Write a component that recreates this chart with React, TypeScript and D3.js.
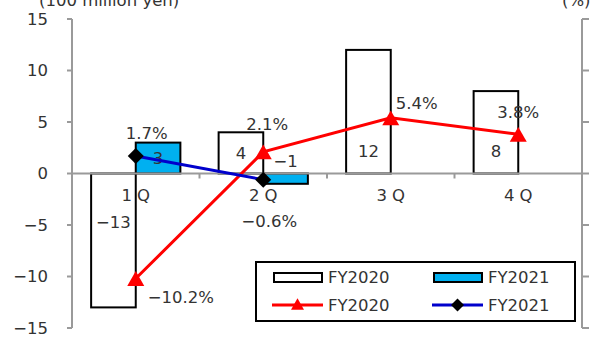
import React from "react";
import * as d3 from "d3";

// Quarterly operating profit (100 million yen) and margin (%)
const quarters = ["1 Q", "2 Q", "3 Q", "4 Q"];
const barSeries = ["FY2020", "FY2021"];
const profit2020 = [-13, 4, 12, 8];
const profit2021 = [3, -1];
const margin2020 = [-10.2, 2.1, 5.4, 3.8];
const margin2021 = [1.7, -0.6];
const yTicks = [-15, -10, -5, 0, 5, 10, 15];

const W = 616;
const H = 338;
const FONT = "'DejaVu Sans', sans-serif";
const FS = 16.5;
const TEXT = "#333";
const AXIS = "#9a9a9a";
const CYAN = "#00b0f0";
const RED = "#ff0000";
const BLUE = "#0000cc";

// label offsets (px) relative to each margin point
const m2020Offsets: [number, number, string][] = [
  [12, 19, "start"],
  [4, -28, "middle"],
  [26, -15, "middle"],
  [0, -22, "middle"],
];
const m2021Offsets: [number, number, string][] = [
  [11, -23, "middle"],
  [6, 42, "middle"],
];

function triangle(cx: number, cy: number, s: number) {
  const h = s * 0.88;
  return `M${cx},${cy - h / 2}L${cx + s / 2},${cy + h / 2}L${cx - s / 2},${cy + h / 2}Z`;
}
function diamond(cx: number, cy: number, s: number) {
  const r = s / 2;
  return `M${cx},${cy - r}L${cx + r},${cy}L${cx},${cy + r}L${cx - r},${cy}Z`;
}

export default function App() {
  const left = 72;
  const right = 582;
  const y = d3.scaleLinear().domain([-15, 15]).range([328, 19]);
  const x = d3
    .scaleBand<string>()
    .domain(quarters)
    .range([left, right])
    .paddingInner(0.3)
    .paddingOuter(0.15);
  const xs = d3.scaleBand<string>().domain(barSeries).range([0, x.bandwidth()]);
  const cx = (q: string) => (x(q) as number) + x.bandwidth() / 2;
  const y0 = y(0);

  const barLabelY = (v: number) => {
    const c = (y(v) + y0) / 2;
    if (Math.abs(v) < 2) return y0 - 12;
    return v > 0 ? Math.max(c, y0 - 22) : Math.min(c, y0 + 49);
  };

  const line = d3
    .line<number>()
    .x((_, i) => cx(quarters[i]))
    .y((v) => y(v));

  const bars2020 = profit2020.map((v, i) => ({ v, q: quarters[i], s: barSeries[0] }));
  const bars2021 = profit2021.map((v, i) => ({ v, q: quarters[i], s: barSeries[1] }));

  const boundaries = d3.range(1, quarters.length).map((i) => left + (i * (right - left)) / quarters.length);

  const fmtPct = (v: number) => d3.format(".1f")(v) + "%";
  const fmtInt = d3.format("d");

  return (
    <svg
      width={W}
      height={H}
      style={{ position: "absolute", left: 0, top: 0, background: "#fff" }}
      fontFamily={FONT}
    >
      <rect width={W} height={H} fill="#fff" />
      {/* units */}
      <text x={39} y={6} fontSize={FS} fill={TEXT}>(100 million yen)</text>
      <text x={562} y={6} fontSize={FS} fill={TEXT}>(%)</text>

      {/* left axis */}
      <line x1={left} x2={left} y1={y(15)} y2={y(-15)} stroke={AXIS} strokeWidth={2} />
      {yTicks.map((t) => (
        <g key={"l" + t}>
          <line x1={left - 5} x2={left} y1={y(t)} y2={y(t)} stroke={AXIS} strokeWidth={2} />
          <text x={48} y={y(t)} dy="0.35em" textAnchor="end" fontSize={FS} fill={TEXT}>
            {fmtInt(t)}
          </text>
        </g>
      ))}
      {/* right axis */}
      <line x1={right} x2={right} y1={y(15)} y2={y(-15)} stroke={AXIS} strokeWidth={2} />
      {yTicks.map((t) => (
        <line key={"r" + t} x1={right} x2={right + 7} y1={y(t)} y2={y(t)} stroke={AXIS} strokeWidth={2} />
      ))}

      {/* bars */}
      {[...bars2020, ...bars2021].map((d) => {
        const bx = (x(d.q) as number) + (xs(d.s) as number);
        const top = Math.min(y(d.v), y0);
        return (
          <rect
            key={d.s + d.q}
            x={bx}
            y={top}
            width={xs.bandwidth()}
            height={Math.abs(y(d.v) - y0)}
            fill={d.s === "FY2020" ? "#fff" : CYAN}
            stroke="#000"
            strokeWidth={2}
          />
        );
      })}

      {/* zero line and category ticks */}
      <line x1={left} x2={right} y1={y0} y2={y0} stroke={AXIS} strokeWidth={2} />
      {boundaries.map((b) => (
        <line key={b} x1={b} x2={b} y1={y0} y2={y0 + 5} stroke={AXIS} strokeWidth={2} />
      ))}
      {quarters.map((q) => (
        <text key={q} x={cx(q)} y={y0 + 22} dy="0.35em" textAnchor="middle" fontSize={FS} fill={TEXT}>
          {q}
        </text>
      ))}

      {/* bar value labels */}
      {[...bars2020, ...bars2021].map((d) => {
        const bx = (x(d.q) as number) + (xs(d.s) as number) + xs.bandwidth() / 2;
        return (
          <text
            key={"t" + d.s + d.q}
            x={bx}
            y={barLabelY(d.v)}
            dy="0.35em"
            textAnchor="middle"
            fontSize={FS}
            fill={TEXT}
          >
            {fmtInt(d.v)}
          </text>
        );
      })}

      {/* margin lines */}
      <path d={line(margin2020) ?? ""} fill="none" stroke={RED} strokeWidth={3} />
      <path d={line(margin2021) ?? ""} fill="none" stroke={BLUE} strokeWidth={3} />
      {margin2020.map((v, i) => (
        <path key={"tri" + i} d={triangle(cx(quarters[i]), y(v), 17)} fill={RED} />
      ))}
      {margin2021.map((v, i) => (
        <path key={"dia" + i} d={diamond(cx(quarters[i]), y(v), 16)} fill="#000" />
      ))}
      {margin2020.map((v, i) => (
        <text
          key={"p20" + i}
          x={cx(quarters[i]) + m2020Offsets[i][0]}
          y={y(v) + m2020Offsets[i][1]}
          dy="0.35em"
          textAnchor={m2020Offsets[i][2] as any}
          fontSize={FS}
          fill={TEXT}
        >
          {fmtPct(v)}
        </text>
      ))}
      {margin2021.map((v, i) => (
        <text
          key={"p21" + i}
          x={cx(quarters[i]) + m2021Offsets[i][0]}
          y={y(v) + m2021Offsets[i][1]}
          dy="0.35em"
          textAnchor={m2021Offsets[i][2] as any}
          fontSize={FS}
          fill={TEXT}
        >
          {fmtPct(v)}
        </text>
      ))}

      {/* legend */}
      <g>
        <rect x={256} y={262} width={319} height={59} fill="#fff" stroke="#000" strokeWidth={2} />
        <rect x={274} y={273} width={48} height={9} fill="#fff" stroke="#000" strokeWidth={2} />
        <text x={328} y={277.5} dy="0.35em" fontSize={FS} fill={TEXT}>FY2020</text>
        <rect x={434} y={273} width={48} height={9} fill={CYAN} stroke="#000" strokeWidth={2} />
        <text x={488} y={277.5} dy="0.35em" fontSize={FS} fill={TEXT}>FY2021</text>
        <line x1={272} x2={323} y1={305} y2={305} stroke={RED} strokeWidth={3} />
        <path d={triangle(297.5, 304, 13)} fill={RED} />
        <text x={328} y={305} dy="0.35em" fontSize={FS} fill={TEXT}>FY2020</text>
        <line x1={432} x2={483} y1={305} y2={305} stroke={BLUE} strokeWidth={3} />
        <path d={diamond(457.5, 305, 13)} fill="#000" />
        <text x={488} y={305} dy="0.35em" fontSize={FS} fill={TEXT}>FY2021</text>
      </g>
    </svg>
  );
}
